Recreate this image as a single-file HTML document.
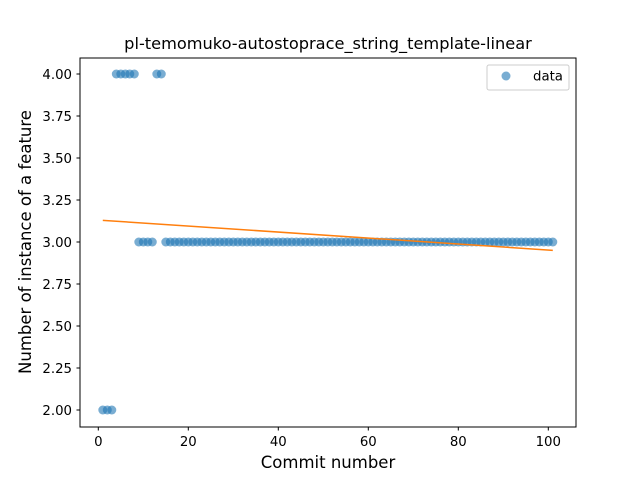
<!DOCTYPE html>
<html><head><meta charset="utf-8"><style>
body{margin:0;background:#fff}
text{font-family:"DejaVu Sans","Liberation Sans",sans-serif;fill:#000}
</style></head><body>
<svg id="c" width="640" height="480" xmlns="http://www.w3.org/2000/svg"></svg>
<script>
const commits=[];for(let i=1;i<=101;i++)commits.push(i);
const values=[2,2,2,4,4,4,4,4,3,3,3,3,4,4].concat(Array(87).fill(3));
const xTicks=[0,20,40,60,80,100];
const yTicks=[2.00,2.25,2.50,2.75,3.00,3.25,3.50,3.75,4.00];
const NS="http://www.w3.org/2000/svg",svg=document.getElementById('c');
const X=v=>98.3+v*4.5, Y=v=>410-(v-2)*168;
function el(t,a,p){const e=document.createElementNS(NS,t);for(const k in a)e.setAttribute(k,a[k]);(p||svg).appendChild(e);return e;}
const title=el('text',{x:328,y:49,'text-anchor':'middle','font-size':16.2});title.textContent='pl-temomuko-autostoprace_string_template-linear';


const pts=el('g',{});


commits.forEach((c,i)=>{const p=el('circle',{cx:X(c),cy:Y(values[i]),r:4.5,fill:'#1f77b4','fill-opacity':0.6},pts);

});
const n=commits.length,mx=commits.reduce((a,b)=>a+b)/n,my=values.reduce((a,b)=>a+b)/n;
let sxy=0,sxx=0;commits.forEach((c,i)=>{sxy+=(c-mx)*(values[i]-my);sxx+=(c-mx)**2;});
const m=sxy/sxx,b=my-m*mx,x0=commits[0],x1=commits[n-1];
const fit=el('line',{x1:X(x0),y1:Y(m*x0+b),x2:X(x1),y2:Y(m*x1+b),stroke:'#ff7f0e','stroke-width':1.5});


const ax=el('rect',{x:80,y:58,width:496,height:369,fill:'none',stroke:'#000','stroke-width':1});


xTicks.forEach(t=>{el('line',{x1:X(t),x2:X(t),y1:427,y2:430.5,stroke:'#000'});
const l=el('text',{x:X(t),y:446,'text-anchor':'middle','font-size':13.3});l.textContent=t;

});
yTicks.forEach(t=>{el('line',{x1:76.5,x2:80,y1:Y(t),y2:Y(t),stroke:'#000'});
const l=el('text',{x:72,y:Y(t)+4.8,'text-anchor':'end','font-size':13.3});l.textContent=t.toFixed(2);

});
const xl=el('text',{x:328,y:468,'text-anchor':'middle','font-size':16.5});xl.textContent='Commit number';


const yl=el('text',{x:31,y:242,'text-anchor':'middle','font-size':16.5,transform:'rotate(-90 31 242)'});yl.textContent='Number of instance of a feature';


const lg=el('g',{});


el('rect',{x:487,y:65,width:82,height:25,rx:2,fill:'#fff',stroke:'#ccc'},lg);
el('circle',{cx:506,cy:76,r:4.5,fill:'#1f77b4','fill-opacity':0.6},lg);
const lt=el('text',{x:533,y:80.5,'font-size':13.3},lg);lt.textContent='data';


</script>
</body></html>
